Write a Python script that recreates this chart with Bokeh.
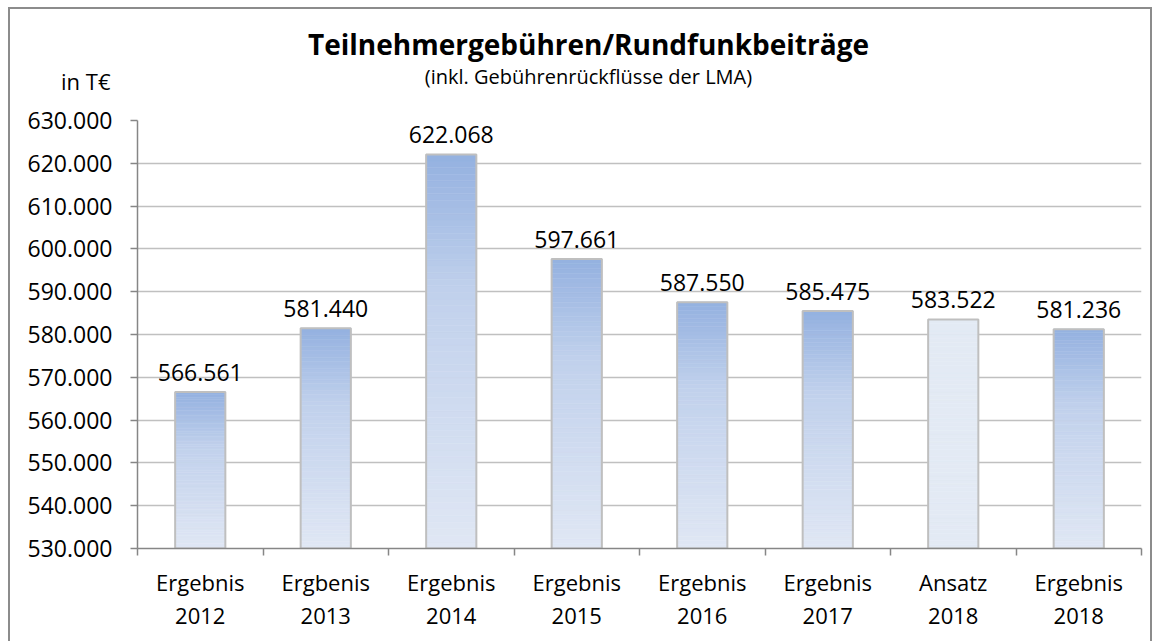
from bokeh.plotting import figure
from bokeh.models import Range1d, FixedTicker
from bokeh.layouts import column
from bokeh.core.properties import value
from bokeh.embed import file_html
from bokeh.resources import INLINE

# ---- data ----
categories = ["Ergebnis\n2012", "Ergbenis\n2013", "Ergebnis\n2014", "Ergebnis\n2015",
              "Ergebnis\n2016", "Ergebnis\n2017", "Ansatz\n2018", "Ergebnis\n2018"]
values = [566561, 581440, 622068, 597661, 587550, 585475, 583522, 581236]
value_labels = ["566.561", "581.440", "622.068", "597.661", "587.550", "585.475", "583.522", "581.236"]
y_ticks = [530000, 540000, 550000, 560000, 570000, 580000, 590000, 600000, 610000, 620000, 630000]
y_tick_labels = ["530.000", "540.000", "550.000", "560.000", "570.000", "580.000",
                 "590.000", "600.000", "610.000", "620.000", "630.000"]
title_text = "Teilnehmergebühren/Rundfunkbeiträge"
subtitle_text = "(inkl. Gebührenrückflüsse der LMA)"
unit_text = "in T€"

FONT = "Open Sans"
W = 1140
HEAD_H = 86
MAIN_H = 546
base = y_ticks[0]
n = len(categories)
xs = [i + 0.5 for i in range(n)]

# ---- header (titles) ----
h = figure(width=W, height=HEAD_H, output_backend="svg", toolbar_location=None,
           x_range=Range1d(0, W), y_range=Range1d(0, HEAD_H),
           min_border=0, min_border_left=0, min_border_right=0, min_border_top=0, min_border_bottom=0)
h.frame_align = False
h.axis.visible = False
h.grid.visible = False
h.outline_line_color = None
h.text(x=[578], y=[52], text=[title_text], text_align="center", text_baseline="middle",
       text_font=value(FONT), text_font_size="28px", text_font_style="bold", text_color="#000000")
h.text(x=[578], y=[19], text=[subtitle_text], text_align="center", text_baseline="middle",
       text_font=value(FONT), text_font_size="20px", text_color="#000000")
h.text(x=[100], y=[15], text=[unit_text], text_align="right", text_baseline="middle",
       text_font=value(FONT), text_font_size="22px", text_color="#000000")

# ---- main chart ----
p = figure(width=W, height=MAIN_H, output_backend="svg", toolbar_location=None,
           x_range=Range1d(0, n), y_range=Range1d(y_ticks[0], y_ticks[-1]),
           min_border_left=127, min_border_right=9, min_border_top=25, min_border_bottom=93)
p.frame_align = False
p.outline_line_color = None

def lerp(c1, c2, t):
    return tuple(int(round(a + (b - a) * t)) for a, b in zip(c1, c2))

top_c = (148, 177, 224)
mid_c = (193, 209, 236)
bot_c = (224, 231, 244)
flat_c = "#e3eaf4"
N = 60
w = 0.4
qb, qt, ql, qr, qc = [], [], [], [], []
for x, v, cat in zip(xs, values, categories):
    for k in range(N):
        b = base + (v - base) * k / N
        t = base + (v - base) * (k + 1) / N
        f = 1 - (k + 0.5) / N  # 0 at top, 1 at bottom
        if cat.startswith("Ansatz"):
            col = flat_c
        else:
            if f < 0.35:
                rgb = lerp(top_c, mid_c, f / 0.35)
            else:
                rgb = lerp(mid_c, bot_c, (f - 0.35) / 0.65)
            col = "#%02x%02x%02x" % rgb
        qb.append(b); qt.append(t); ql.append(x - w / 2); qr.append(x + w / 2); qc.append(col)

p.quad(left=ql, right=qr, bottom=qb, top=qt, fill_color=qc, line_color=qc, line_width=0.5)
p.vbar(x=xs, top=values, bottom=base, width=w, fill_color=None,
       line_color="#bfbfbf", line_width=2)

p.text(x=xs, y=values, text=value_labels, text_align="center", text_baseline="bottom",
       y_offset=-11, text_font=value(FONT), text_font_size="23px", text_color="#000000")

p.yaxis.ticker = FixedTicker(ticks=y_ticks)
p.yaxis.major_label_overrides = {t: l for t, l in zip(y_ticks, y_tick_labels)}
p.yaxis.major_label_text_font = FONT
p.yaxis.major_label_text_font_size = "23px"
p.yaxis.major_label_text_color = "#000000"
p.yaxis.axis_line_color = "#868686"
p.yaxis.axis_line_width = 1.5
p.yaxis.major_tick_line_color = "#868686"
p.yaxis.major_tick_line_width = 1.5
p.yaxis.major_tick_out = 7
p.yaxis.major_tick_in = 0
p.yaxis.minor_tick_line_color = None
p.yaxis.major_label_standoff = 18

p.xaxis.ticker = FixedTicker(ticks=xs, minor_ticks=list(range(n + 1)))
p.xaxis.major_label_overrides = {x: c for x, c in zip(xs, categories)}
p.xaxis.major_label_text_font = FONT
p.xaxis.major_label_text_font_size = "22px"
p.xaxis.major_label_text_color = "#000000"
p.xaxis.major_label_text_line_height = 1.1
p.xaxis.axis_line_color = "#868686"
p.xaxis.axis_line_width = 1.5
p.xaxis.major_tick_line_color = None
p.xaxis.major_tick_out = 0
p.xaxis.major_tick_in = 0
p.xaxis.minor_tick_line_color = "#868686"
p.xaxis.minor_tick_line_width = 1.5
p.xaxis.minor_tick_out = 7
p.xaxis.minor_tick_in = 0
p.xaxis.major_label_standoff = 11

p.xgrid.grid_line_color = None
p.ygrid.ticker = FixedTicker(ticks=y_ticks)
p.ygrid.grid_line_color = "#c0c0c0"
p.ygrid.grid_line_width = 1.5

layout = column(h, p, spacing=0)
layout.styles = {"margin-left": "10px", "margin-top": "9px",
                 "outline": "2px solid #8c8c8c", "background": "white"}

open("out.html", "w").write(file_html(layout, INLINE))
